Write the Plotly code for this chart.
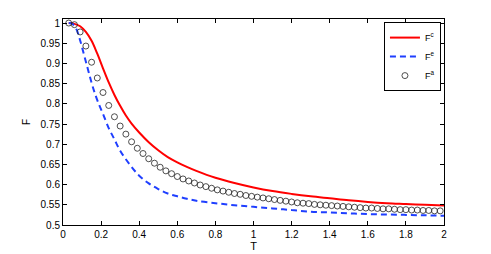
import plotly.graph_objects as go

# data
t_c = [0.03, 0.06, 0.09, 0.12, 0.15, 0.18, 0.21, 0.24, 0.27, 0.30, 0.33, 0.36, 0.40,
       0.45, 0.50, 0.55, 0.60, 0.65, 0.70, 0.80, 0.90, 1.00, 1.10, 1.20, 1.30, 1.40,
       1.50, 1.60, 1.70, 1.80, 1.90, 2.00]
f_c = [1.000, 0.998, 0.992, 0.978, 0.956, 0.924, 0.888, 0.853, 0.822, 0.795, 0.771, 0.751,
       0.729, 0.705, 0.685, 0.668, 0.655, 0.644, 0.634, 0.617, 0.604, 0.593, 0.584, 0.577,
       0.571, 0.566, 0.561, 0.557, 0.554, 0.552, 0.550, 0.548]

t_e = [0.03, 0.05, 0.07, 0.09, 0.11, 0.13, 0.15, 0.17, 0.19, 0.21, 0.24, 0.27, 0.30,
       0.35, 0.40, 0.45, 0.50, 0.55, 0.60, 0.65, 0.70, 0.80, 0.90, 1.00, 1.10, 1.20,
       1.30, 1.40, 1.50, 1.60, 1.70, 1.80, 1.90, 2.00]
f_e = [1.000, 0.998, 0.985, 0.957, 0.922, 0.887, 0.852, 0.822, 0.797, 0.775, 0.740, 0.712,
       0.684, 0.650, 0.622, 0.603, 0.589, 0.578, 0.571, 0.565, 0.560, 0.554, 0.549, 0.545,
       0.541, 0.537, 0.533, 0.531, 0.529, 0.527, 0.526, 0.525, 0.524, 0.523]

t_a = [0.03, 0.06, 0.09, 0.12, 0.15, 0.18, 0.21, 0.24, 0.27, 0.30, 0.33, 0.36, 0.39, 0.42,
       0.45, 0.48, 0.51, 0.54, 0.57, 0.60, 0.63, 0.66, 0.69, 0.72, 0.75, 0.78, 0.81, 0.84,
       0.87, 0.90, 0.93, 0.96, 0.99, 1.02, 1.05, 1.08, 1.11, 1.14, 1.17, 1.20, 1.23, 1.26,
       1.29, 1.32, 1.35, 1.38, 1.41, 1.44, 1.47, 1.50, 1.53, 1.56, 1.59, 1.62, 1.65, 1.68,
       1.71, 1.74, 1.77, 1.80, 1.83, 1.86, 1.89, 1.92, 1.95, 1.98]
f_a = [1.000, 0.996, 0.978, 0.943, 0.903, 0.864, 0.828, 0.796, 0.768, 0.745, 0.725, 0.706,
       0.690, 0.677, 0.664, 0.653, 0.643, 0.634, 0.627, 0.620, 0.614, 0.609, 0.604, 0.599,
       0.595, 0.591, 0.587, 0.584, 0.581, 0.578, 0.576, 0.573, 0.571, 0.569, 0.567, 0.565,
       0.563, 0.561, 0.559, 0.557, 0.555, 0.554, 0.553, 0.551, 0.550, 0.549, 0.548, 0.547,
       0.546, 0.545, 0.544, 0.543, 0.542, 0.542, 0.541, 0.540, 0.540, 0.539, 0.538, 0.538,
       0.537, 0.537, 0.536, 0.536, 0.535, 0.535]

x_ticks = [0, 0.2, 0.4, 0.6, 0.8, 1, 1.2, 1.4, 1.6, 1.8, 2]
x_labels = ["0", "0.2", "0.4", "0.6", "0.8", "1", "1.2", "1.4", "1.6", "1.8", "2"]
y_ticks = [0.5, 0.55, 0.6, 0.65, 0.7, 0.75, 0.8, 0.85, 0.9, 0.95, 1]
y_labels = ["0.5", "0.55", "0.6", "0.65", "0.7", "0.75", "0.8", "0.85", "0.9", "0.95", "1"]

fig = go.Figure()
fig.add_trace(go.Scatter(x=t_c, y=f_c, mode="lines", name="F<sup>c</sup>",
                         line=dict(color="#ff0000", width=2, shape="spline")))
fig.add_trace(go.Scatter(x=t_e, y=f_e, mode="lines", name="F<sup>e</sup>",
                         line=dict(color="#1f3fff", width=2, dash="6px,4px", shape="spline")))
fig.add_trace(go.Scatter(x=t_a, y=f_a, mode="markers", name="F<sup>a</sup>",
                         marker=dict(symbol="circle-open", size=6, color="#222222",
                                     line=dict(width=0.8))))

axis_common = dict(showgrid=False, zeroline=False, showline=True, linecolor="black",
                   linewidth=1, mirror="allticks", ticks="inside", ticklen=4,
                   tickcolor="black", tickfont=dict(size=10, color="black"),
                   automargin=False)

# page body has an 8px margin, so the figure is a bit smaller than the window
fig.update_layout(
    width=483, height=246,
    margin=dict(l=55, r=47, t=11, b=29),
    paper_bgcolor="white", plot_bgcolor="white",
    font=dict(family="Liberation Sans, Arial, sans-serif", size=10, color="black"),
    xaxis=dict(range=[0, 2], tickvals=x_ticks, ticktext=x_labels,
               title=dict(text="T", standoff=1, font=dict(size=11)), **axis_common),
    yaxis=dict(range=[0.5, 1.01], tickvals=y_ticks, ticktext=y_labels,
               title=dict(text="F", standoff=8, font=dict(size=10)), **axis_common),
    legend=dict(x=0.992, y=0.985, xanchor="right", yanchor="top",
                bordercolor="black", borderwidth=1, bgcolor="white",
                font=dict(size=9), itemwidth=30, tracegroupgap=0),
    showlegend=True,
)

fig.write_html("out.html")
